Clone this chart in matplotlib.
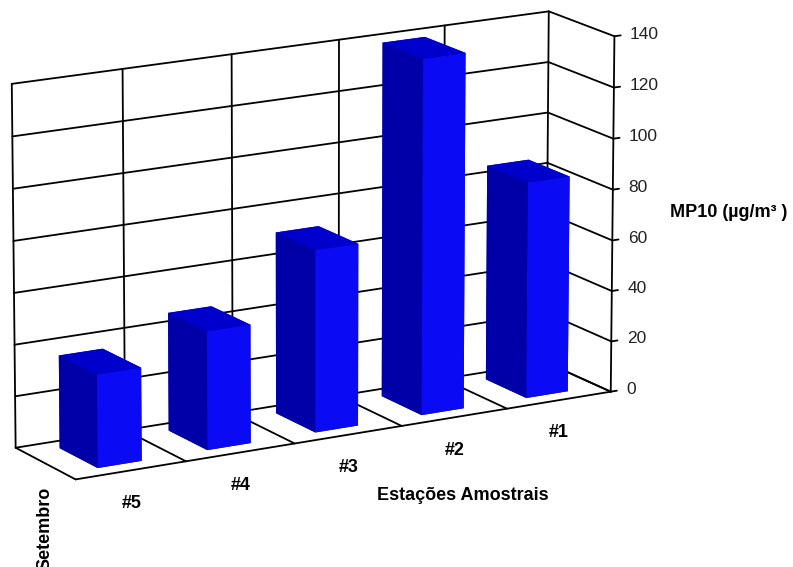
import numpy as np
import matplotlib
matplotlib.use("Agg")
import matplotlib.pyplot as plt
from mpl_toolkits.mplot3d import proj3d

# ---- data -------------------------------------------------------------
stations = ["#5", "#4", "#3", "#2", "#1"]
mp10 = [36, 46, 71, 139, 85]
value_ticks = [0, 20, 40, 60, 80, 100, 120, 140]
series_name = "Setembro"
x_title = "Estações Amostrais"
z_title = "MP10 (µg/m³ )"

plt.rcParams["font.family"] = ["Liberation Sans", "DejaVu Sans"]

fig = plt.figure(figsize=(7.93, 5.67), dpi=100)
ax = fig.add_axes([-0.110, 0.062, 1.0, 1.0], projection="3d")
ax.set_proj_type("persp", focal_length=2.5)
ax.view_init(elev=15, azim=-120)
ax.set_box_aspect((620, 126, 373), zoom=1.255)
ax.set_axis_off()
ax.computed_zorder = False

n = len(stations)
zmax = value_ticks[-1]
ax.set_xlim(0, n)
ax.set_ylim(0, 1)
ax.set_zlim(0, zmax)

proj = ax.get_proj()


def label_at(x, y, z, text, **kw):
    """Place a flat text label at the projected position of a 3D point."""
    px, py, _ = proj3d.proj_transform(x, y, z, proj)
    return ax.text2D(px, py, text, transform=ax.transData, clip_on=False, **kw)


# ---- walls, floor and gridlines ---------------------------------------
line_kw = dict(color="black", lw=1.3, zorder=1, solid_capstyle="round",
               clip_on=False)
for z in value_ticks:
    ax.plot([0, n], [1, 1], [z, z], **line_kw)      # back wall
    ax.plot([n, n], [1, 0], [z, z], **line_kw)      # side wall
for x in range(n + 1):
    ax.plot([x, x], [1, 1], [0, zmax], **line_kw)   # back wall verticals
    ax.plot([x, x], [0, 1], [0, 0], **line_kw)      # floor dividers
ax.plot([0, n], [0, 0], [0, 0], **line_kw)          # floor front edge
ax.plot([n, n], [0, 0], [0, zmax], **line_kw)       # value axis

for z in value_ticks:
    ax.plot([n, n + 0.06], [0, 0], [z, z], **line_kw)
    label_at(n + 0.15, 0, z, str(z), ha="left", va="center",
             fontsize=12.5, color="#222222")

# ---- bars ---------------------------------------------------------------
bar_w = 0.4
bar_d = 0.63
xs = np.arange(n) + 0.5 - bar_w / 2
ys = np.full(n, (1 - bar_d) / 2)
zs = np.zeros(n)
# face order used by bar3d: bottom, top, front, back, left, right
faces = ["#0000a0", "#0000cc", "#0a0af5", "#0000a0", "#0000a8", "#0000a0"]
bars = ax.bar3d(xs, ys, zs, bar_w, bar_d, mp10, color=faces * n,
                shade=False, zorder=2, linewidth=0)
bars.set_clip_on(False)

for i, s in enumerate(stations):
    label_at(i + 0.5, 0, -13, s, ha="center", va="center",
             fontsize=13, fontweight="bold", color="black")

# ---- titles ---------------------------------------------------------------
fig.text(463 / 793, 1 - 495 / 567, x_title, ha="center", va="center",
         fontsize=13, fontweight="bold")
fig.text(670 / 793, 1 - 213 / 567, z_title, ha="left", va="center",
         fontsize=13, fontweight="bold")
fig.text(45 / 793, 1 - 487 / 567, series_name, ha="center", va="top",
         rotation=90, fontsize=13, fontweight="bold")

fig.savefig("out.png", dpi=100, facecolor="white")
